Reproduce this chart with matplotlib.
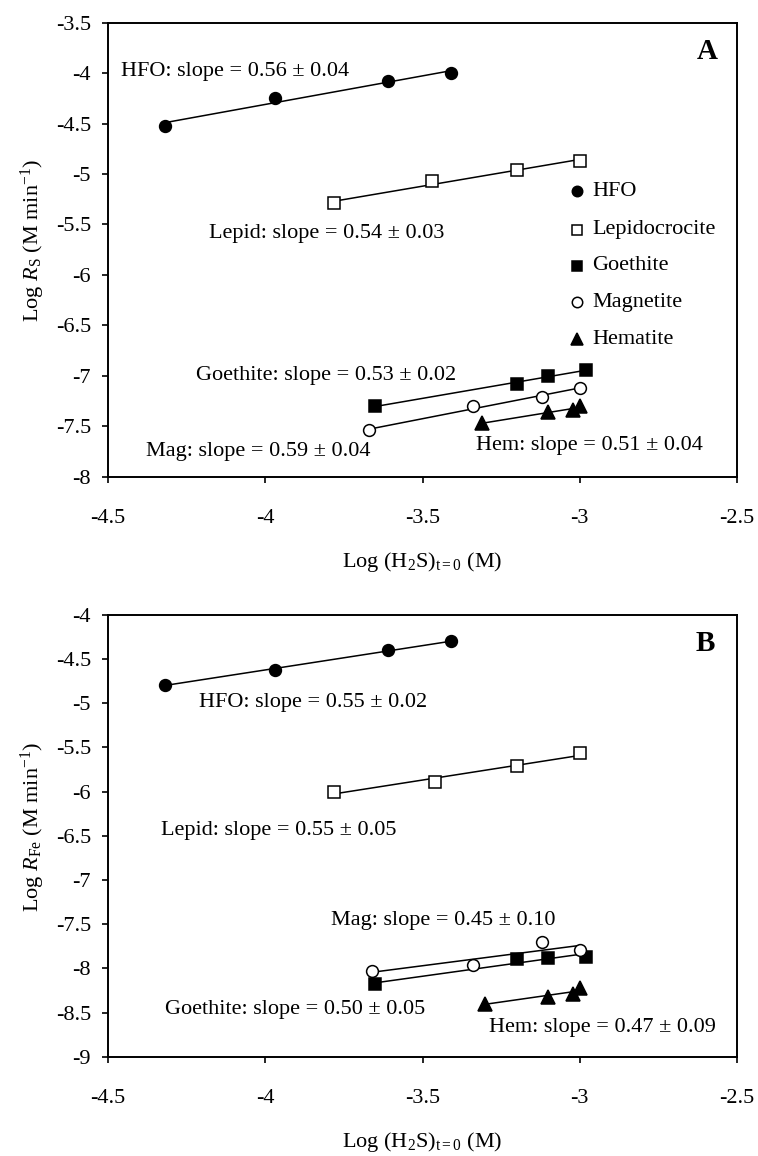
import matplotlib
matplotlib.use("Agg")
import matplotlib.pyplot as plt
import numpy as np

plt.rcParams["font.family"] = ["Liberation Serif", "DejaVu Serif"]
plt.rcParams["mathtext.fontset"] = "custom"
plt.rcParams["mathtext.rm"] = "Liberation Serif"
plt.rcParams["mathtext.it"] = "Liberation Serif:italic"

# Panel A: log R_S vs log (H2S)t=0
a_hfo_x = [-4.32, -3.97, -3.61, -3.41]
a_hfo_y = [-4.52, -4.25, -4.08, -4.00]
a_lep_x = [-3.78, -3.47, -3.20, -3.00]
a_lep_y = [-5.29, -5.07, -4.96, -4.87]
a_goe_x = [-3.65, -3.20, -3.10, -2.98]
a_goe_y = [-7.30, -7.08, -7.00, -6.94]
a_mag_x = [-3.67, -3.34, -3.12, -3.00]
a_mag_y = [-7.54, -7.30, -7.21, -7.12]
a_hem_x = [-3.31, -3.10, -3.02, -3.00]
a_hem_y = [-7.47, -7.36, -7.34, -7.30]

# Panel B: log R_Fe vs log (H2S)t=0
b_hfo_x = [-4.32, -3.97, -3.61, -3.41]
b_hfo_y = [-4.79, -4.63, -4.40, -4.30]
b_lep_x = [-3.78, -3.46, -3.20, -3.00]
b_lep_y = [-6.00, -5.89, -5.71, -5.57]
b_goe_x = [-3.65, -3.20, -3.10, -2.98]
b_goe_y = [-8.18, -7.90, -7.88, -7.87]
b_mag_x = [-3.66, -3.34, -3.12, -3.00]
b_mag_y = [-8.03, -7.96, -7.70, -7.79]
b_hem_x = [-3.30, -3.10, -3.02, -3.00]
b_hem_y = [-8.40, -8.32, -8.29, -8.22]

labels = ["HFO", "Lepidocrocite", "Goethite", "Magnetite", "Hematite"]
styles = [
    {"marker": "o", "mfc": "black", "ms": 8.5},
    {"marker": "s", "mfc": "white", "ms": 8},
    {"marker": "s", "mfc": "black", "ms": 8},
    {"marker": "o", "mfc": "white", "ms": 8.5},
    {"marker": "^", "mfc": "black", "ms": 9.5},
]

a_notes = [
    ("HFO: slope = 0.56 ± 0.04", -4.46, -3.98),
    ("Lepid: slope = 0.54 ± 0.03", -4.18, -5.59),
    ("Goethite: slope = 0.53 ± 0.02", -4.22, -7.00),
    ("Mag: slope = 0.59 ± 0.04", -4.38, -7.75),
    ("Hem: slope = 0.51 ± 0.04", -3.33, -7.69),
]
b_notes = [
    ("HFO: slope = 0.55 ± 0.02", -4.21, -4.99),
    ("Lepid: slope = 0.55 ± 0.05", -4.33, -6.44),
    ("Mag: slope = 0.45 ± 0.10", -3.79, -7.46),
    ("Goethite: slope = 0.50 ± 0.05", -4.32, -8.47),
    ("Hem: slope = 0.47 ± 0.09", -3.29, -8.67),
]

FS = 16


def draw_series(ax, xs, ys, style):
    x = np.array(xs)
    y = np.array(ys)
    k, b = np.polyfit(x, y, 1)
    xl = np.array([x.min(), x.max()])
    ax.plot(xl, k * xl + b, color="black", lw=1.1, zorder=2)
    ax.plot(x, y, ls="none", marker=style["marker"], mfc=style["mfc"],
            mec="black", mew=1.1, ms=style["ms"], zorder=3)


def style_axes(ax, ylim, ylabel):
    ax.set_xlim(-4.5, -2.5)
    ax.set_ylim(*ylim)
    ax.set_xticks(np.arange(-4.5, -2.49, 0.5))
    ax.set_xticklabels(["-4.5", "-4", "-3.5", "-3", "-2.5"])
    yt = np.arange(ylim[0], ylim[1] + 0.01, 0.5)
    ax.set_yticks(yt)
    ax.set_yticklabels(["%g" % v for v in yt])
    ax.tick_params(direction="out", length=4.3, width=1.2, labelsize=FS,
                   top=False, right=False)
    ax.tick_params(axis="x", pad=19)
    ax.tick_params(axis="y", pad=8)
    for s in ax.spines.values():
        s.set_linewidth(1.4)
    h = ax.get_position().height * 1156
    ax.set_xlabel("Log (H$_2$S)$_{\\rm t=0}$ (M)", fontsize=FS)
    ax.xaxis.set_label_coords(0.5, -85.0 / h)
    ax.xaxis.label.set_va("center")
    ax.set_ylabel(ylabel, fontsize=FS)
    ax.yaxis.set_label_coords(-75.0 / 629, 0.52)
    ax.yaxis.label.set_va("center")


fig = plt.figure(figsize=(7.58, 11.56), dpi=100)
ax_a = fig.add_axes([108 / 758, 1 - 476.7 / 1156, 629 / 758, 454 / 1156])
ax_b = fig.add_axes([108 / 758, 1 - 1056.7 / 1156, 629 / 758, 442 / 1156])

a_sets = [(a_hfo_x, a_hfo_y), (a_lep_x, a_lep_y), (a_goe_x, a_goe_y),
          (a_mag_x, a_mag_y), (a_hem_x, a_hem_y)]
b_sets = [(b_hfo_x, b_hfo_y), (b_lep_x, b_lep_y), (b_goe_x, b_goe_y),
          (b_mag_x, b_mag_y), (b_hem_x, b_hem_y)]

for (xs, ys), st in zip(a_sets, styles):
    draw_series(ax_a, xs, ys, st)
for (xs, ys), st in zip(b_sets, styles):
    draw_series(ax_b, xs, ys, st)

for txt, x, y in a_notes:
    ax_a.text(x, y, txt, fontsize=FS, ha="left", va="center")
for txt, x, y in b_notes:
    ax_b.text(x, y, txt, fontsize=FS, ha="left", va="center")

# legend in panel A, drawn by hand
leg_y = [-5.17, -5.55, -5.91, -6.27, -6.64]
for name, st, ly in zip(labels, styles, leg_y):
    ax_a.plot([-3.01], [ly], ls="none", marker=st["marker"], mfc=st["mfc"],
              mec="black", mew=1.1, ms=st["ms"] - 1)
    ax_a.text(-2.96, ly, name, fontsize=FS, ha="left", va="center")

ax_a.text(-2.560, -3.785, "A", fontsize=21, fontweight="bold", ha="right", va="center")
ax_b.text(-2.570, -4.322, "B", fontsize=21, fontweight="bold", ha="right", va="center")

style_axes(ax_a, (-8, -3.5), "Log $\\it{R}$$\\rm{_S}$ (M min$^{-1}$)")
style_axes(ax_b, (-9, -4), "Log $\\it{R}$$\\rm{_{Fe}}$ (M min$^{-1}$)")

fig.savefig("out.png", dpi=100)
